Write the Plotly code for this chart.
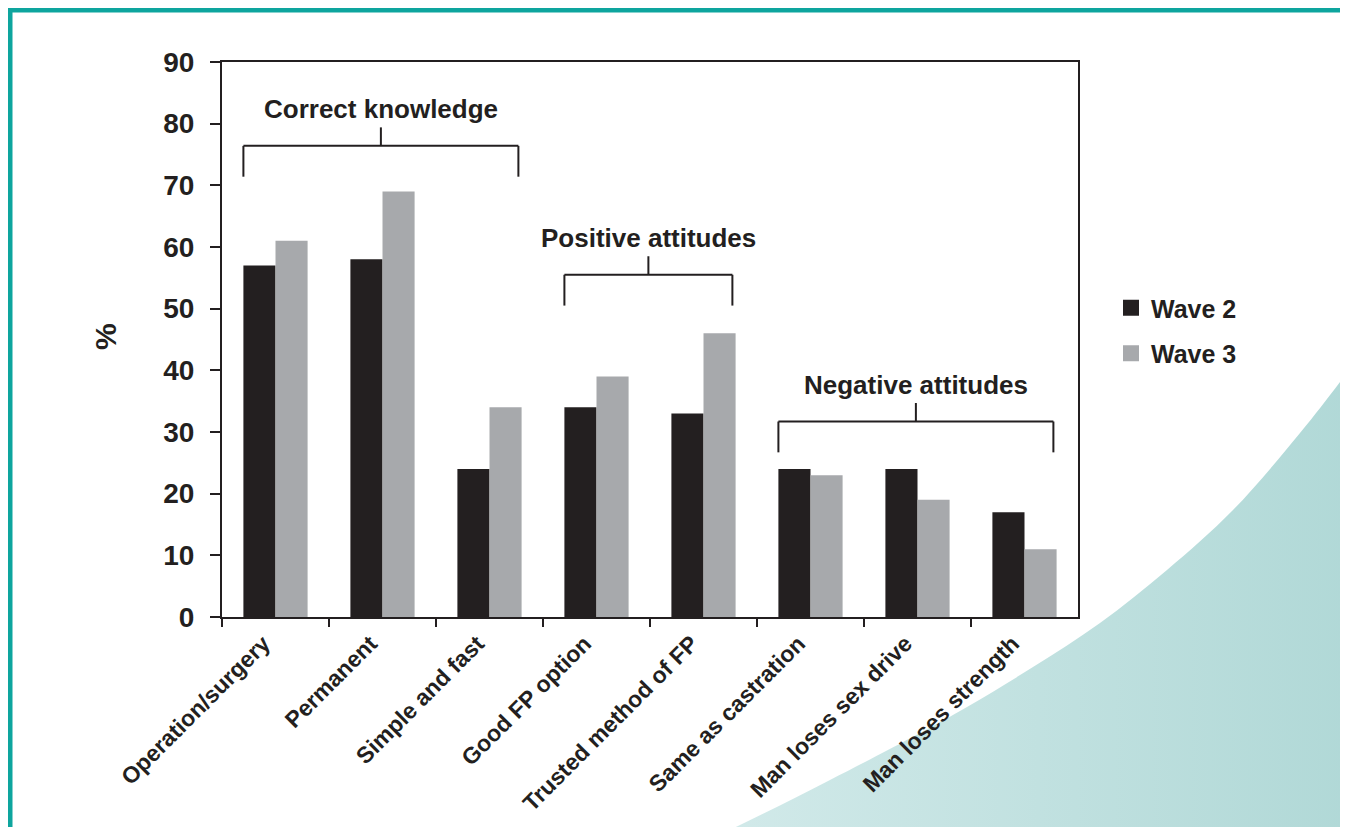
import plotly.graph_objects as go

# ---------------- data ----------------
categories = ["Operation/surgery", "Permanent", "Simple and fast", "Good FP option",
              "Trusted method of FP", "Same as castration", "Man loses sex drive",
              "Man loses strength"]
wave2 = [57, 58, 24, 34, 33, 24, 24, 17]
wave3 = [61, 69, 34, 39, 46, 23, 19, 11]
y_tickvals = [0, 10, 20, 30, 40, 50, 60, 70, 80, 90]
group_labels = ["Correct knowledge", "Positive attitudes", "Negative attitudes"]
group_first = [0, 3, 5]
group_last = [2, 4, 7]
group_level = [76.4, 55.5, 31.7]
series_names = ["Wave 2", "Wave 3"]

# ---------------- style ----------------
PAGE_W, PAGE_H = 1348, 827
OFF = 8                      # browser body margin
W, H = PAGE_W - OFF, PAGE_H - OFF
FONT = "Liberation Sans, Arial, sans-serif"
INK = "#231f20"
C2 = "#231f20"
C3 = "#a7a9ac"
TEAL = "#0ea59e"

# plot area in page pixels
PL, PR, PT, PB = 222, 1078, 62, 617

fig = go.Figure()

# background decorative curve (page-pixel axes)
curve_x = [600, 740, 830, 920, 967, 1033, 1100, 1167, 1233, 1300, 1343, 1400, 1450, 1450, 600]
curve_y = [890, 825, 780, 733, 707, 667, 623, 570, 510, 433, 378, 301, 230, 950, 950]
fig.add_trace(go.Scatter(
    x=curve_x, y=curve_y, mode="lines", fill="toself",
    line=dict(width=0, color="rgba(0,0,0,0)", shape="spline", smoothing=1.0),
    fillgradient=dict(type="horizontal",
                      colorscale=[[0, "#d8eded"], [1, "#a8d4d2"]]),
    hoverinfo="skip", showlegend=False, xaxis="x", yaxis="y"))

# bars
fig.add_trace(go.Bar(x=categories, y=wave2, name=series_names[0], marker_color=C2,
                     marker_line_width=0, xaxis="x2", yaxis="y2", showlegend=False))
fig.add_trace(go.Bar(x=categories, y=wave3, name=series_names[1], marker_color=C3,
                     marker_line_width=0, xaxis="x2", yaxis="y2", showlegend=False))

# legend entries (square markers)
for nm, col in zip(series_names, [C2, C3]):
    fig.add_trace(go.Scatter(x=[None], y=[None], mode="markers", name=nm,
                             marker=dict(symbol="square", size=21, color=col),
                             xaxis="x2", yaxis="y2", legendgroup=nm, showlegend=True))

shapes = []
annotations = []
# brackets
for lab, i, j, lv in zip(group_labels, group_first, group_last, group_level):
    x0, x1 = i - 0.3, j + 0.27
    xm = (x0 + x1) / 2
    line = dict(color=INK, width=2)
    shapes.append(dict(type="line", xref="x2", yref="y2", x0=x0, x1=x1, y0=lv, y1=lv, line=line))
    shapes.append(dict(type="line", xref="x2", yref="y2", x0=x0, x1=x0, y0=lv, y1=lv - 5, line=line))
    shapes.append(dict(type="line", xref="x2", yref="y2", x0=x1, x1=x1, y0=lv, y1=lv - 5, line=line))
    shapes.append(dict(type="line", xref="x2", yref="y2", x0=xm, x1=xm, y0=lv, y1=lv + 3, line=line))
    annotations.append(dict(text=lab, xref="x2", yref="y2", x=xm, y=lv + 6, showarrow=False,
                            xanchor="center", yanchor="middle",
                            font=dict(family=FONT, size=26, color=INK, weight="bold")))

# y-axis title
annotations.append(dict(text="%", xref="x", yref="y", x=105, y=337, showarrow=False,
                        textangle=-90, xanchor="center", yanchor="middle",
                        font=dict(family=FONT, size=30, color=INK, weight="bold")))

# teal frame
frame = dict(color=TEAL, width=5)
shapes.append(dict(type="line", xref="x", yref="y", x0=10, x1=1345, y0=10, y1=10, line=frame))
shapes.append(dict(type="line", xref="x", yref="y", x0=10, x1=10, y0=8, y1=PAGE_H + 5, line=frame))
shapes.append(dict(type="line", xref="x", yref="y", x0=1345, x1=1345, y0=8, y1=PAGE_H + 5, line=frame))

fig.update_layout(
    width=W, height=H,
    margin=dict(l=0, r=0, t=0, b=0, autoexpand=False),
    paper_bgcolor="white", plot_bgcolor="rgba(0,0,0,0)",
    barmode="group", bargap=0.4, bargroupgap=0,
    font=dict(family=FONT, color=INK),
    shapes=shapes, annotations=annotations,
    xaxis=dict(domain=[0, 1], range=[OFF, PAGE_W], visible=False, fixedrange=True, automargin=False),
    yaxis=dict(domain=[0, 1], range=[PAGE_H, OFF], visible=False, fixedrange=True, automargin=False),
    xaxis2=dict(domain=[(PL - OFF) / W, (PR - OFF) / W], anchor="y2", type="category",
                automargin=False,
                showline=True, linecolor=INK, linewidth=2, mirror=True,
                ticks="outside", tickson="boundaries", ticklen=8, tickwidth=2, tickcolor=INK,
                tickangle=-45, showgrid=False, ticklabelshift=-12, ticklabelstandoff=2,
                tickfont=dict(family=FONT, size=23, color=INK, weight="bold")),
    yaxis2=dict(domain=[1 - (PB - OFF) / H, 1 - (PT - OFF) / H], anchor="x2", range=[0, 90],
                automargin=False,
                tickvals=y_tickvals, showline=True, linecolor=INK, linewidth=2, mirror=True,
                ticks="outside", ticklen=10, tickwidth=2, tickcolor=INK, showgrid=False,
                zeroline=False, ticklabelstandoff=10,
                tickfont=dict(family=FONT, size=28, color=INK, weight="bold")),
    legend=dict(x=(1111 - OFF) / W, y=1 - (285 - OFF) / H, xanchor="left", yanchor="top",
                bgcolor="rgba(0,0,0,0)", tracegroupgap=10, itemsizing="trace",
                font=dict(family=FONT, size=25, color=INK, weight="bold")),
)

fig.write_html("out.html")
